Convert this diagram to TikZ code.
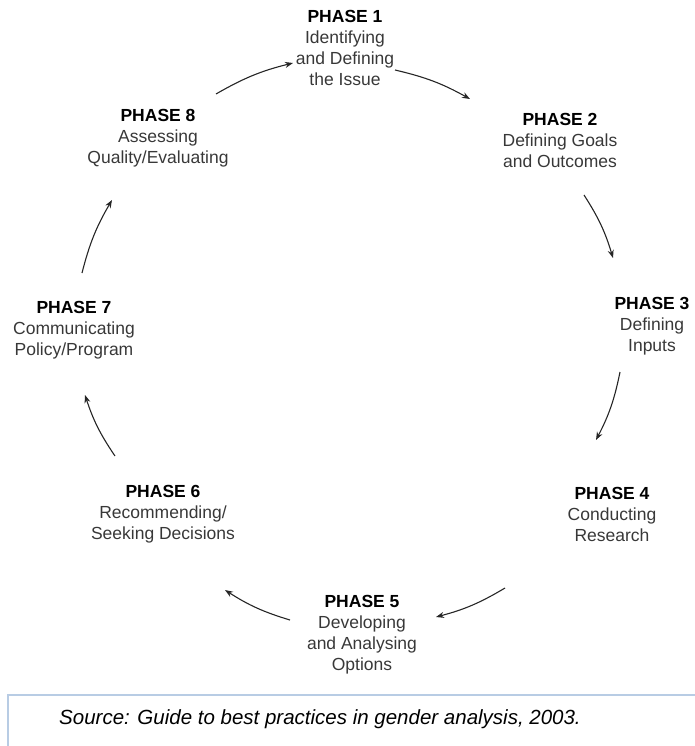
\documentclass[tikz,border=0pt]{standalone}
\usepackage{fontspec}
\setmainfont{Liberation Sans}
\usetikzlibrary{arrows.meta}

\definecolor{srcblue}{RGB}{184,204,228}
\newcommand{\phasetitle}[1]{{\color{black}\bfseries PHASE #1}}

\begin{document}
\begin{tikzpicture}[x=1pt, y=-1pt,
	phase/.style={align=center, inner sep=0pt, text=black!78,
		font=\fontsize{17.5}{21}\selectfont},
	cycle/.style={-{Stealth[length=8pt, width=6pt]}, line width=1.1pt,
		black!85, bend left=8}]
\clip (0, 0) rectangle (695, 746);

% the eight phases
\node[phase] (p1) at (345, 48) {\phasetitle{1}\\Identifying\\and Defining\\the Issue};
\node[phase] (p2) at (560, 140) {\phasetitle{2}\\Defining Goals\\and Outcomes};
\node[phase] (p3) at (652, 326) {\phasetitle{3}\\Defining\\Inputs};
\node[phase] (p4) at (612, 514) {\phasetitle{4}\\Conducting\\Research};
\node[phase] (p5) at (362, 635) {\phasetitle{5}\\Developing\\and Analysing\\Options};
\node[phase] (p6) at (163, 514) {\phasetitle{6}\\Recommending/\\Seeking Decisions};
\node[phase] (p7) at (74, 330) {\phasetitle{7}\\Communicating\\Policy/Program};
\node[phase] (p8) at (158, 138) {\phasetitle{8}\\Assessing\\Quality/Evaluating};

% arrow ends round the circle
\coordinate (a81) at (216, 94);   \coordinate (b81) at (293, 63);
\coordinate (a12) at (395, 70);   \coordinate (b12) at (470, 99);
\coordinate (a23) at (584, 195);  \coordinate (b23) at (613, 258);
\coordinate (a34) at (620, 372);  \coordinate (b34) at (596, 440);
\coordinate (a45) at (505, 588);  \coordinate (b45) at (436, 617);
\coordinate (a56) at (290, 620);  \coordinate (b56) at (225, 590);
\coordinate (a67) at (115, 456);  \coordinate (b67) at (85, 395);
\coordinate (a78) at (82, 273);   \coordinate (b78) at (112, 200);

\draw[cycle] (a81) to (b81);
\draw[cycle] (a12) to (b12);
\draw[cycle] (a23) to (b23);
\draw[cycle] (a34) to (b34);
\draw[cycle] (a45) to (b45);
\draw[cycle] (a56) to (b56);
\draw[cycle] (a67) to (b67);
\draw[cycle] (a78) to (b78);

% source box
\draw[srcblue, line width=1.5pt] (710, 695) -- (8, 695) -- (8, 760);
\node[font=\fontsize{20.5}{24}\selectfont\itshape, inner sep=0pt] (src) at (320, 719)
	{Source: Guide to best practices in gender analysis, 2003.};

\end{tikzpicture}
\end{document}
